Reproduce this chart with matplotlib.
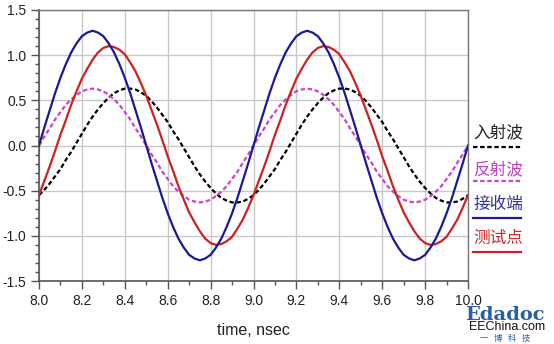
import matplotlib
matplotlib.use('Agg')
import matplotlib.pyplot as plt
from matplotlib.ticker import MultipleLocator

plt.rcParams['font.family'] = ['Liberation Sans', 'DejaVu Sans']

# time axis, nsec (samples every 0.025 ns)
t = [8.0 + 0.025 * i for i in range(81)]

# 接收端 (receiver)
rx = [0, 0.20, 0.39, 0.58, 0.75, 0.90, 1.03, 1.13, 1.21, 1.25,
      1.27, 1.25, 1.21, 1.13, 1.03, 0.90, 0.75, 0.58, 0.39, 0.20,
      0, -0.20, -0.39, -0.58, -0.75, -0.90, -1.03, -1.13, -1.21, -1.25,
      -1.27, -1.25, -1.21, -1.13, -1.03, -0.90, -0.75, -0.58, -0.39, -0.20,
      0, 0.20, 0.39, 0.58, 0.75, 0.90, 1.03, 1.13, 1.21, 1.25,
      1.27, 1.25, 1.21, 1.13, 1.03, 0.90, 0.75, 0.58, 0.39, 0.20,
      0, -0.20, -0.39, -0.58, -0.75, -0.90, -1.03, -1.13, -1.21, -1.25,
      -1.27, -1.25, -1.21, -1.13, -1.03, -0.90, -0.75, -0.58, -0.39, -0.20, 0]
# 测试点 (test point)
tp = [-0.55, -0.39, -0.23, -0.06, 0.12, 0.28, 0.45, 0.60, 0.74, 0.85,
      0.95, 1.03, 1.08, 1.10, 1.09, 1.06, 1.01, 0.92, 0.82, 0.69,
      0.55, 0.39, 0.23, 0.06, -0.12, -0.28, -0.45, -0.60, -0.74, -0.85,
      -0.95, -1.03, -1.08, -1.10, -1.09, -1.06, -1.01, -0.92, -0.82, -0.69,
      -0.55, -0.39, -0.23, -0.06, 0.12, 0.28, 0.45, 0.60, 0.74, 0.85,
      0.95, 1.03, 1.08, 1.10, 1.09, 1.06, 1.01, 0.92, 0.82, 0.69,
      0.55, 0.39, 0.23, 0.06, -0.12, -0.28, -0.45, -0.60, -0.74, -0.85,
      -0.95, -1.03, -1.08, -1.10, -1.09, -1.06, -1.01, -0.92, -0.82, -0.69, -0.55]
# 反射波 (reflected)
refl = [0, 0.10, 0.19, 0.29, 0.37, 0.45, 0.51, 0.56, 0.60, 0.62,
        0.63, 0.62, 0.60, 0.56, 0.51, 0.45, 0.37, 0.29, 0.19, 0.10,
        0, -0.10, -0.19, -0.29, -0.37, -0.45, -0.51, -0.56, -0.60, -0.62,
        -0.63, -0.62, -0.60, -0.56, -0.51, -0.45, -0.37, -0.29, -0.19, -0.10,
        0, 0.10, 0.19, 0.29, 0.37, 0.45, 0.51, 0.56, 0.60, 0.62,
        0.63, 0.62, 0.60, 0.56, 0.51, 0.45, 0.37, 0.29, 0.19, 0.10,
        0, -0.10, -0.19, -0.29, -0.37, -0.45, -0.51, -0.56, -0.60, -0.62,
        -0.63, -0.62, -0.60, -0.56, -0.51, -0.45, -0.37, -0.29, -0.19, -0.10, 0]
# 入射波 (incident)
inc = [-0.55, -0.49, -0.42, -0.34, -0.26, -0.16, -0.07, 0.03, 0.13, 0.23,
       0.32, 0.40, 0.47, 0.53, 0.58, 0.61, 0.63, 0.63, 0.62, 0.59,
       0.55, 0.49, 0.42, 0.34, 0.26, 0.16, 0.07, -0.03, -0.13, -0.23,
       -0.32, -0.40, -0.47, -0.53, -0.58, -0.61, -0.63, -0.63, -0.62, -0.59,
       -0.55, -0.49, -0.42, -0.34, -0.26, -0.16, -0.07, 0.03, 0.13, 0.23,
       0.32, 0.40, 0.47, 0.53, 0.58, 0.61, 0.63, 0.63, 0.62, 0.59,
       0.55, 0.49, 0.42, 0.34, 0.26, 0.16, 0.07, -0.03, -0.13, -0.23,
       -0.32, -0.40, -0.47, -0.53, -0.58, -0.61, -0.63, -0.63, -0.62, -0.59, -0.55]

labels = ['入射波', '反射波', '接收端', '测试点']
text_colors = ['#222222', '#c040c0', '#333399', '#cc2a2a']
line_colors = ['#000000', '#cc44cc', '#1a1a99', '#cc2222']
line_styles = [(0, (2, 1.2)), (0, (2, 1.2)), '-', '-']

fig = plt.figure(figsize=(5.54, 3.44), dpi=100)
ax = fig.add_axes([0.0704, 0.183, 0.7744, 0.788])

ax.plot(t, inc, color=line_colors[0], ls=line_styles[0], lw=1.6, zorder=3)
ax.plot(t, refl, color=line_colors[1], ls=line_styles[1], lw=1.6, zorder=3)
ax.plot(t, tp, color=line_colors[3], lw=1.6, zorder=3)
ax.plot(t, rx, color=line_colors[2], lw=1.6, zorder=4)

ax.set_xlim(8.0, 10.0)
ax.set_ylim(-1.5, 1.5)
ax.xaxis.set_major_locator(MultipleLocator(0.2))
ax.xaxis.set_minor_locator(MultipleLocator(0.1))
ax.yaxis.set_major_locator(MultipleLocator(0.5))
ax.yaxis.set_minor_locator(MultipleLocator(0.1))
ax.grid(True, which='major', color='#c8c8c8', lw=1)
ax.tick_params(which='major', direction='out', length=6, width=1, color='#555555',
               labelsize=10, pad=3, labelcolor='#222222')
ax.tick_params(which='minor', direction='out', length=3, width=1, color='#555555')
ax.set_xticklabels([f'{v:.1f}' for v in ax.get_xticks()])
ax.set_yticklabels([f'{v:.1f}' for v in ax.get_yticks()])
for side in ['left', 'bottom']:
    ax.spines[side].set_color('#555555')
    ax.spines[side].set_linewidth(1.2)
for side in ['top', 'right']:
    ax.spines[side].set_color('#777777')
    ax.spines[side].set_linewidth(1)

fig.text(0.457, 0.04, 'time, nsec', fontsize=11.5, ha='center', va='center', color='#222222')

# legend drawn on the right side
text_y = [0.613, 0.507, 0.407, 0.308]
line_y = [0.572, 0.474, 0.366, 0.267]
for lab, tc, lc, ls, ty, ly in zip(labels, text_colors, line_colors, line_styles, text_y, line_y):
    fig.text(0.899, ty, lab, fontsize=12, color=tc, ha='center', va='center',
             family=['Noto Sans CJK SC', 'DejaVu Sans'])
    fig.add_artist(plt.Line2D([0.853, 0.940], [ly, ly], color=lc, ls=ls, lw=1.6,
                              transform=fig.transFigure))

# watermark
fig.text(0.912, 0.085, 'Edadoc', fontsize=14, color='#2a5ea8', fontweight='bold',
         ha='center', va='center', family='DejaVu Serif')
fig.text(0.916, 0.048, 'EEChina.com', fontsize=9, color='#111111', ha='center', va='center')
fig.text(0.912, 0.015, '一   博   科   技', fontsize=6, color='#2a5ea8', ha='center', va='center',
         family=['Noto Sans CJK SC', 'DejaVu Sans'])

fig.savefig('out.png', dpi=100)
